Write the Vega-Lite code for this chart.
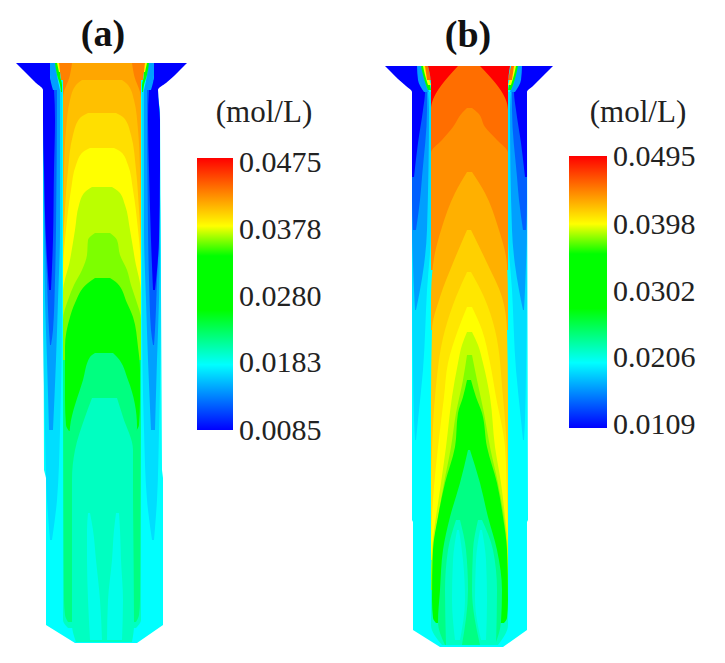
{"$schema":"https://vega.github.io/schema/vega-lite/v6.json","width":725,"height":663,"padding":0,"autosize":{"type":"fit","contains":"padding"},"background":"white","config":{"view":{"stroke":null}},
"datasets":{
"shapeA":[{"y":63,"x":40,"x2":163},{"y":90,"x":44,"x2":157},{"y":110,"x":43,"x2":160},{"y":470,"x":44,"x2":162},{"y":478,"x":46,"x2":163},{"y":625,"x":46,"x2":163},{"y":643,"x":75,"x2":137}],
"shapeB":[{"y":66,"x":405,"x2":533},{"y":92,"x":413,"x2":526},{"y":110,"x":412,"x2":527},{"y":520,"x":412,"x2":528},{"y":522,"x":413,"x2":527},{"y":630,"x":413,"x2":527},{"y":647,"x":440,"x2":503}],
"bandsA":[
{"b":"A1L","c":0.0167,"y":90,"x":43,"x2":62},{"b":"A1L","c":0.0167,"y":300,"x":43,"x2":62},{"b":"A1L","c":0.0167,"y":430,"x":45,"x2":60},{"b":"A1L","c":0.0167,"y":500,"x":47,"x2":57},{"b":"A1L","c":0.0167,"y":540,"x":50,"x2":52},
{"b":"A1R","c":0.0167,"y":90,"x":142,"x2":158},{"b":"A1R","c":0.0167,"y":300,"x":142,"x2":161},{"b":"A1R","c":0.0167,"y":430,"x":144,"x2":159},{"b":"A1R","c":0.0167,"y":500,"x":147,"x2":157},{"b":"A1R","c":0.0167,"y":540,"x":152,"x2":154},
{"b":"A2L","c":0.0144,"y":90,"x":43,"x2":60},{"b":"A2L","c":0.0144,"y":230,"x":44,"x2":60},{"b":"A2L","c":0.0144,"y":300,"x":45,"x2":58},{"b":"A2L","c":0.0144,"y":360,"x":47,"x2":56},{"b":"A2L","c":0.0144,"y":430,"x":49,"x2":53},
{"b":"A2R","c":0.0144,"y":90,"x":144,"x2":158},{"b":"A2R","c":0.0144,"y":230,"x":144,"x2":160},{"b":"A2R","c":0.0144,"y":300,"x":146,"x2":159},{"b":"A2R","c":0.0144,"y":360,"x":148,"x2":157},{"b":"A2R","c":0.0144,"y":430,"x":151,"x2":155},
{"b":"A3L","c":0.012,"y":90,"x":43,"x2":57},{"b":"A3L","c":0.012,"y":230,"x":45,"x2":56},{"b":"A3L","c":0.012,"y":280,"x":47,"x2":55},{"b":"A3L","c":0.012,"y":330,"x":49,"x2":53},{"b":"A3L","c":0.012,"y":345,"x":50,"x2":51},
{"b":"A3R","c":0.012,"y":90,"x":147,"x2":158},{"b":"A3R","c":0.012,"y":230,"x":148,"x2":159},{"b":"A3R","c":0.012,"y":280,"x":149,"x2":157},{"b":"A3R","c":0.012,"y":330,"x":151,"x2":155},{"b":"A3R","c":0.012,"y":345,"x":153,"x2":154},
{"b":"A4L","c":0.0085,"y":63,"x":16,"x2":51},{"b":"A4L","c":0.0085,"y":70,"x":23,"x2":50},{"b":"A4L","c":0.0085,"y":76,"x":29,"x2":50},{"b":"A4L","c":0.0085,"y":83,"x":36,"x2":52},{"b":"A4L","c":0.0085,"y":90,"x":43,"x2":54},{"b":"A4L","c":0.0085,"y":120,"x":43,"x2":55},{"b":"A4L","c":0.0085,"y":170,"x":44,"x2":54},{"b":"A4L","c":0.0085,"y":240,"x":46,"x2":53},{"b":"A4L","c":0.0085,"y":290,"x":49,"x2":51},
{"b":"A4R","c":0.0085,"y":63,"x":153,"x2":187},{"b":"A4R","c":0.0085,"y":70,"x":154,"x2":180},{"b":"A4R","c":0.0085,"y":76,"x":154,"x2":174},{"b":"A4R","c":0.0085,"y":83,"x":152,"x2":166},{"b":"A4R","c":0.0085,"y":90,"x":149,"x2":158},{"b":"A4R","c":0.0085,"y":120,"x":148,"x2":160},{"b":"A4R","c":0.0085,"y":170,"x":149,"x2":160},{"b":"A4R","c":0.0085,"y":240,"x":151,"x2":159},{"b":"A4R","c":0.0085,"y":290,"x":153,"x2":155},
{"b":"N1L","c":0.0144,"y":63,"x":50,"x2":56},{"b":"N1L","c":0.0144,"y":75,"x":50,"x2":57},{"b":"N1L","c":0.0144,"y":90,"x":53,"x2":60},
{"b":"N1R","c":0.0144,"y":63,"x":148,"x2":154},{"b":"N1R","c":0.0144,"y":75,"x":147,"x2":154},{"b":"N1R","c":0.0144,"y":90,"x":144,"x2":151},
{"b":"N2L","c":0.028,"y":63,"x":55,"x2":60},{"b":"N2L","c":0.028,"y":75,"x":57,"x2":60},{"b":"N2L","c":0.028,"y":85,"x":60,"x2":62},{"b":"N2L","c":0.028,"y":92,"x":61,"x2":62},
{"b":"N2R","c":0.028,"y":63,"x":144,"x2":149},{"b":"N2R","c":0.028,"y":75,"x":144,"x2":147},{"b":"N2R","c":0.028,"y":85,"x":142,"x2":144},{"b":"N2R","c":0.028,"y":92,"x":142,"x2":143},
{"b":"N3L","c":0.0378,"y":63,"x":57,"x2":61},{"b":"N3L","c":0.0378,"y":72,"x":59,"x2":61},
{"b":"N3R","c":0.0378,"y":63,"x":143,"x2":147},{"b":"N3R","c":0.0378,"y":72,"x":143,"x2":145},
{"b":"N4L","c":0.0426,"y":63,"x":59,"x2":63},{"b":"N4L","c":0.0426,"y":80,"x":61,"x2":63},
{"b":"N4R","c":0.0426,"y":63,"x":141,"x2":145},{"b":"N4R","c":0.0426,"y":80,"x":141,"x2":143},
{"b":"G0","c":0.0198,"y":300,"x":63,"x2":141},{"b":"G0","c":0.0198,"y":620,"x":63,"x2":141},{"b":"G0","c":0.0198,"y":628,"x":68,"x2":136},
{"b":"S1","c":0.0218,"y":340,"x":63,"x2":141},{"b":"S1","c":0.0218,"y":600,"x":64,"x2":140},{"b":"S1","c":0.0218,"y":615,"x":65,"x2":139},{"b":"S1","c":0.0218,"y":622,"x":68,"x2":136},
{"b":"K0","c":0.0426,"y":63,"x":63,"x2":141},{"b":"K0","c":0.0426,"y":100,"x":63,"x2":141},
{"b":"K1","c":0.0412,"y":63,"x":72,"x2":132},{"b":"K1","c":0.0412,"y":75,"x":70,"x2":134},{"b":"K1","c":0.0412,"y":98,"x":63,"x2":141},{"b":"K1","c":0.0412,"y":240,"x":63,"x2":141},
{"b":"K2","c":0.0402,"y":80,"x":82,"x2":122},{"b":"K2","c":0.0402,"y":85,"x":76,"x2":128},{"b":"K2","c":0.0402,"y":100,"x":70,"x2":134},{"b":"K2","c":0.0402,"y":130,"x":66,"x2":138},{"b":"K2","c":0.0402,"y":170,"x":64,"x2":140},{"b":"K2","c":0.0402,"y":230,"x":63,"x2":141},{"b":"K2","c":0.0402,"y":250,"x":63,"x2":141},
{"b":"K3","c":0.039,"y":113,"x":88,"x2":116},{"b":"K3","c":0.039,"y":118,"x":80,"x2":124},{"b":"K3","c":0.039,"y":135,"x":73,"x2":131},{"b":"K3","c":0.039,"y":170,"x":68,"x2":136},{"b":"K3","c":0.039,"y":210,"x":65,"x2":139},{"b":"K3","c":0.039,"y":250,"x":63,"x2":141},{"b":"K3","c":0.039,"y":270,"x":63,"x2":141},
{"b":"K4","c":0.0378,"y":148,"x":90,"x2":114},{"b":"K4","c":0.0378,"y":152,"x":83,"x2":121},{"b":"K4","c":0.0378,"y":165,"x":76,"x2":128},{"b":"K4","c":0.0378,"y":190,"x":71,"x2":133},{"b":"K4","c":0.0378,"y":230,"x":66,"x2":138},{"b":"K4","c":0.0378,"y":270,"x":63,"x2":141},{"b":"K4","c":0.0378,"y":300,"x":63,"x2":141},
{"b":"K5","c":0.0366,"y":187,"x":92,"x2":112},{"b":"K5","c":0.0366,"y":192,"x":85,"x2":119},{"b":"K5","c":0.0366,"y":205,"x":79,"x2":125},{"b":"K5","c":0.0366,"y":230,"x":75,"x2":130},{"b":"K5","c":0.0366,"y":260,"x":70,"x2":135},{"b":"K5","c":0.0366,"y":293,"x":63,"x2":141},{"b":"K5","c":0.0366,"y":340,"x":63,"x2":141},
{"b":"K6","c":0.0355,"y":233,"x":95,"x2":110},{"b":"K6","c":0.0355,"y":240,"x":88,"x2":117},{"b":"K6","c":0.0355,"y":255,"x":87,"x2":120},{"b":"K6","c":0.0355,"y":270,"x":82,"x2":127},{"b":"K6","c":0.0355,"y":285,"x":74,"x2":131},{"b":"K6","c":0.0355,"y":300,"x":68,"x2":136},{"b":"K6","c":0.0355,"y":320,"x":63,"x2":141},{"b":"K6","c":0.0355,"y":360,"x":63,"x2":141},
{"b":"K7","c":0.028,"y":278,"x":95,"x2":110},{"b":"K7","c":0.028,"y":283,"x":88,"x2":117},{"b":"K7","c":0.028,"y":303,"x":75,"x2":127},{"b":"K7","c":0.028,"y":317,"x":70,"x2":133},{"b":"K7","c":0.028,"y":347,"x":65,"x2":138},{"b":"K7","c":0.028,"y":370,"x":65,"x2":140},{"b":"K7","c":0.028,"y":400,"x":65,"x2":140},{"b":"K7","c":0.028,"y":425,"x":66,"x2":139},{"b":"K7","c":0.028,"y":431,"x":69,"x2":136},
{"b":"K8","c":0.0218,"y":353,"x":95,"x2":113},{"b":"K8","c":0.0218,"y":357,"x":90,"x2":117},{"b":"K8","c":0.0218,"y":380,"x":83,"x2":128},{"b":"K8","c":0.0218,"y":427,"x":70,"x2":137},{"b":"K8","c":0.0218,"y":440,"x":69,"x2":136},
{"b":"K9","c":0.0198,"y":398,"x":92,"x2":117},{"b":"K9","c":0.0198,"y":417,"x":85,"x2":123},{"b":"K9","c":0.0198,"y":450,"x":75,"x2":133},{"b":"K9","c":0.0198,"y":480,"x":72,"x2":133},{"b":"K9","c":0.0198,"y":625,"x":72,"x2":134},{"b":"K9","c":0.0198,"y":642,"x":76,"x2":132},
{"b":"K10L","c":0.0185,"y":513,"x":88,"x2":90},{"b":"K10L","c":0.0185,"y":530,"x":87,"x2":93},{"b":"K10L","c":0.0185,"y":560,"x":87,"x2":96},{"b":"K10L","c":0.0185,"y":600,"x":88,"x2":100},{"b":"K10L","c":0.0185,"y":640,"x":90,"x2":102},
{"b":"K10R","c":0.0185,"y":513,"x":116,"x2":119},{"b":"K10R","c":0.0185,"y":530,"x":114,"x2":120},{"b":"K10R","c":0.0185,"y":560,"x":112,"x2":121},{"b":"K10R","c":0.0185,"y":600,"x":108,"x2":123},{"b":"K10R","c":0.0185,"y":640,"x":107,"x2":122}
],
"bandsB":[
{"b":"A1L","c":0.019,"y":92,"x":412,"x2":431},{"b":"A1L","c":0.019,"y":230,"x":412,"x2":431},{"b":"A1L","c":0.019,"y":290,"x":412,"x2":427},{"b":"A1L","c":0.019,"y":370,"x":413,"x2":423},{"b":"A1L","c":0.019,"y":420,"x":414,"x2":418},{"b":"A1L","c":0.019,"y":440,"x":415,"x2":416},
{"b":"A1R","c":0.019,"y":92,"x":508,"x2":527},{"b":"A1R","c":0.019,"y":230,"x":508,"x2":527},{"b":"A1R","c":0.019,"y":290,"x":512,"x2":527},{"b":"A1R","c":0.019,"y":370,"x":516,"x2":526},{"b":"A1R","c":0.019,"y":420,"x":521,"x2":525},{"b":"A1R","c":0.019,"y":440,"x":523,"x2":524},
{"b":"A2L","c":0.0167,"y":92,"x":412,"x2":428},{"b":"A2L","c":0.0167,"y":110,"x":412,"x2":429},{"b":"A2L","c":0.0167,"y":230,"x":412,"x2":427},{"b":"A2L","c":0.0167,"y":265,"x":413,"x2":424},{"b":"A2L","c":0.0167,"y":290,"x":414,"x2":420},{"b":"A2L","c":0.0167,"y":310,"x":415,"x2":416},
{"b":"A2R","c":0.0167,"y":92,"x":511,"x2":527},{"b":"A2R","c":0.0167,"y":110,"x":510,"x2":527},{"b":"A2R","c":0.0167,"y":230,"x":512,"x2":527},{"b":"A2R","c":0.0167,"y":265,"x":515,"x2":526},{"b":"A2R","c":0.0167,"y":290,"x":519,"x2":525},{"b":"A2R","c":0.0167,"y":310,"x":523,"x2":524},
{"b":"A3L","c":0.0144,"y":92,"x":412,"x2":427},{"b":"A3L","c":0.0144,"y":110,"x":412,"x2":427},{"b":"A3L","c":0.0144,"y":177,"x":412,"x2":422},{"b":"A3L","c":0.0144,"y":200,"x":412,"x2":420},{"b":"A3L","c":0.0144,"y":230,"x":413,"x2":416},
{"b":"A3R","c":0.0144,"y":92,"x":512,"x2":527},{"b":"A3R","c":0.0144,"y":110,"x":512,"x2":527},{"b":"A3R","c":0.0144,"y":177,"x":517,"x2":527},{"b":"A3R","c":0.0144,"y":200,"x":519,"x2":527},{"b":"A3R","c":0.0144,"y":230,"x":523,"x2":526},
{"b":"A4L","c":0.0109,"y":66,"x":385,"x2":418},{"b":"A4L","c":0.0109,"y":72,"x":391,"x2":419},{"b":"A4L","c":0.0109,"y":79,"x":398,"x2":421},{"b":"A4L","c":0.0109,"y":86,"x":406,"x2":424},{"b":"A4L","c":0.0109,"y":92,"x":412,"x2":425},{"b":"A4L","c":0.0109,"y":110,"x":412,"x2":423},{"b":"A4L","c":0.0109,"y":143,"x":412,"x2":418},{"b":"A4L","c":0.0109,"y":177,"x":412,"x2":414},
{"b":"A4R","c":0.0109,"y":66,"x":521,"x2":553},{"b":"A4R","c":0.0109,"y":72,"x":520,"x2":547},{"b":"A4R","c":0.0109,"y":79,"x":518,"x2":540},{"b":"A4R","c":0.0109,"y":86,"x":515,"x2":533},{"b":"A4R","c":0.0109,"y":92,"x":514,"x2":527},{"b":"A4R","c":0.0109,"y":110,"x":516,"x2":527},{"b":"A4R","c":0.0109,"y":143,"x":521,"x2":527},{"b":"A4R","c":0.0109,"y":177,"x":525,"x2":527},
{"b":"N1L","c":0.0167,"y":66,"x":417,"x2":422},{"b":"N1L","c":0.0167,"y":80,"x":418,"x2":425},{"b":"N1L","c":0.0167,"y":92,"x":424,"x2":429},
{"b":"N1R","c":0.0167,"y":66,"x":517,"x2":522},{"b":"N1R","c":0.0167,"y":80,"x":514,"x2":521},{"b":"N1R","c":0.0167,"y":92,"x":510,"x2":515},
{"b":"N2L","c":0.03,"y":66,"x":421,"x2":427},{"b":"N2L","c":0.03,"y":75,"x":423,"x2":427},{"b":"N2L","c":0.03,"y":85,"x":426,"x2":430},{"b":"N2L","c":0.03,"y":90,"x":428,"x2":431},
{"b":"N2R","c":0.03,"y":66,"x":512,"x2":518},{"b":"N2R","c":0.03,"y":75,"x":512,"x2":516},{"b":"N2R","c":0.03,"y":85,"x":509,"x2":513},{"b":"N2R","c":0.03,"y":90,"x":508,"x2":511},
{"b":"N3L","c":0.0398,"y":66,"x":423,"x2":427},{"b":"N3L","c":0.0398,"y":75,"x":425,"x2":428},{"b":"N3L","c":0.0398,"y":85,"x":428,"x2":431},
{"b":"N3R","c":0.0398,"y":66,"x":512,"x2":516},{"b":"N3R","c":0.0398,"y":75,"x":511,"x2":514},{"b":"N3R","c":0.0398,"y":85,"x":508,"x2":511},
{"b":"N4L","c":0.0453,"y":66,"x":425,"x2":428},{"b":"N4L","c":0.0453,"y":80,"x":427,"x2":431},
{"b":"N4R","c":0.0453,"y":66,"x":511,"x2":514},{"b":"N4R","c":0.0453,"y":80,"x":508,"x2":512},
{"b":"G0","c":0.0221,"y":400,"x":431,"x2":508},{"b":"G0","c":0.0221,"y":625,"x":431,"x2":508},{"b":"G0","c":0.0221,"y":645,"x":442,"x2":498},
{"b":"K0","c":0.0495,"y":66,"x":428,"x2":510},{"b":"K0","c":0.0495,"y":85,"x":431,"x2":508},{"b":"K0","c":0.0495,"y":110,"x":431,"x2":508},
{"b":"K1","c":0.0453,"y":66,"x":458,"x2":480},{"b":"K1","c":0.0453,"y":110,"x":431,"x2":508},{"b":"K1","c":0.0453,"y":260,"x":431,"x2":508},
{"b":"K2","c":0.0441,"y":108,"x":467,"x2":472},{"b":"K2","c":0.0441,"y":113,"x":462,"x2":478},{"b":"K2","c":0.0441,"y":127,"x":453,"x2":485},{"b":"K2","c":0.0441,"y":140,"x":442,"x2":497},{"b":"K2","c":0.0441,"y":153,"x":431,"x2":508},{"b":"K2","c":0.0441,"y":270,"x":431,"x2":508},
{"b":"K3","c":0.0428,"y":172,"x":467,"x2":472},{"b":"K3","c":0.0428,"y":193,"x":455,"x2":485},{"b":"K3","c":0.0428,"y":227,"x":442,"x2":498},{"b":"K3","c":0.0428,"y":265,"x":433,"x2":507},{"b":"K3","c":0.0428,"y":300,"x":431,"x2":508},{"b":"K3","c":0.0428,"y":330,"x":431,"x2":508},
{"b":"K4","c":0.0416,"y":230,"x":467,"x2":471},{"b":"K4","c":0.0416,"y":263,"x":453,"x2":487},{"b":"K4","c":0.0416,"y":297,"x":440,"x2":502},{"b":"K4","c":0.0416,"y":330,"x":432,"x2":507},{"b":"K4","c":0.0416,"y":400,"x":431,"x2":508},{"b":"K4","c":0.0416,"y":490,"x":431,"x2":508},
{"b":"K5","c":0.0407,"y":272,"x":467,"x2":471},{"b":"K5","c":0.0407,"y":297,"x":456,"x2":484},{"b":"K5","c":0.0407,"y":330,"x":445,"x2":495},{"b":"K5","c":0.0407,"y":397,"x":435,"x2":503},{"b":"K5","c":0.0407,"y":450,"x":432,"x2":507},{"b":"K5","c":0.0407,"y":480,"x":431,"x2":508},{"b":"K5","c":0.0407,"y":550,"x":431,"x2":508},
{"b":"K6","c":0.0398,"y":307,"x":467,"x2":472},{"b":"K6","c":0.0398,"y":330,"x":458,"x2":482},{"b":"K6","c":0.0398,"y":363,"x":448,"x2":490},{"b":"K6","c":0.0398,"y":397,"x":444,"x2":496},{"b":"K6","c":0.0398,"y":447,"x":438,"x2":505},{"b":"K6","c":0.0398,"y":500,"x":433,"x2":507},{"b":"K6","c":0.0398,"y":545,"x":431,"x2":508},{"b":"K6","c":0.0398,"y":560,"x":431,"x2":508},
{"b":"K7","c":0.0389,"y":332,"x":467,"x2":472},{"b":"K7","c":0.0389,"y":345,"x":462,"x2":478},{"b":"K7","c":0.0389,"y":363,"x":458,"x2":483},{"b":"K7","c":0.0389,"y":397,"x":452,"x2":490},{"b":"K7","c":0.0389,"y":447,"x":446,"x2":495},{"b":"K7","c":0.0389,"y":483,"x":441,"x2":501},{"b":"K7","c":0.0389,"y":517,"x":436,"x2":505},{"b":"K7","c":0.0389,"y":550,"x":432,"x2":508},{"b":"K7","c":0.0389,"y":580,"x":431,"x2":508},
{"b":"K8","c":0.0379,"y":355,"x":467,"x2":472},{"b":"K8","c":0.0379,"y":380,"x":463,"x2":477},{"b":"K8","c":0.0379,"y":413,"x":456,"x2":484},{"b":"K8","c":0.0379,"y":447,"x":451,"x2":490},{"b":"K8","c":0.0379,"y":483,"x":444,"x2":498},{"b":"K8","c":0.0379,"y":517,"x":438,"x2":504},{"b":"K8","c":0.0379,"y":550,"x":433,"x2":507},{"b":"K8","c":0.0379,"y":590,"x":431,"x2":508},
{"b":"K9","c":0.03,"y":380,"x":467,"x2":471},{"b":"K9","c":0.03,"y":397,"x":463,"x2":476},{"b":"K9","c":0.03,"y":413,"x":458,"x2":482},{"b":"K9","c":0.03,"y":447,"x":455,"x2":487},{"b":"K9","c":0.03,"y":483,"x":445,"x2":497},{"b":"K9","c":0.03,"y":517,"x":438,"x2":503},{"b":"K9","c":0.03,"y":550,"x":433,"x2":507},{"b":"K9","c":0.03,"y":600,"x":432,"x2":508},{"b":"K9","c":0.03,"y":618,"x":433,"x2":507},{"b":"K9","c":0.03,"y":623,"x":436,"x2":504},
{"b":"K10","c":0.024,"y":450,"x":468,"x2":470},{"b":"K10","c":0.024,"y":483,"x":460,"x2":480},{"b":"K10","c":0.024,"y":517,"x":450,"x2":488},{"b":"K10","c":0.024,"y":550,"x":443,"x2":497},{"b":"K10","c":0.024,"y":590,"x":440,"x2":502},{"b":"K10","c":0.024,"y":622,"x":438,"x2":501},{"b":"K10","c":0.024,"y":645,"x":445,"x2":495},
{"b":"K11L","c":0.0221,"y":520,"x":456,"x2":460},{"b":"K11L","c":0.0221,"y":550,"x":448,"x2":466},{"b":"K11L","c":0.0221,"y":590,"x":445,"x2":468},{"b":"K11L","c":0.0221,"y":645,"x":446,"x2":462},
{"b":"K11R","c":0.0221,"y":520,"x":478,"x2":482},{"b":"K11R","c":0.0221,"y":550,"x":473,"x2":493},{"b":"K11R","c":0.0221,"y":590,"x":472,"x2":497},{"b":"K11R","c":0.0221,"y":645,"x":480,"x2":496},
{"b":"K12L","c":0.021,"y":530,"x":457,"x2":459},{"b":"K12L","c":0.021,"y":560,"x":453,"x2":463},{"b":"K12L","c":0.021,"y":600,"x":452,"x2":465},{"b":"K12L","c":0.021,"y":640,"x":455,"x2":460},
{"b":"K12R","c":0.021,"y":530,"x":480,"x2":482},{"b":"K12R","c":0.021,"y":560,"x":476,"x2":486},{"b":"K12R","c":0.021,"y":600,"x":475,"x2":487},{"b":"K12R","c":0.021,"y":640,"x":481,"x2":486}
],
"labels":[
{"t":"0.0475","x":239,"y":163},{"t":"0.0378","x":239,"y":230},{"t":"0.0280","x":239,"y":297},{"t":"0.0183","x":239,"y":363},{"t":"0.0085","x":239,"y":431},
{"t":"0.0495","x":613,"y":157},{"t":"0.0398","x":613,"y":225},{"t":"0.0302","x":613,"y":292},{"t":"0.0206","x":613,"y":358},{"t":"0.0109","x":613,"y":425}],
"heads":[{"t":"(mol/L)","x":264,"y":113},{"t":"(mol/L)","x":638,"y":113}],
"titles":[{"t":"(a)","x":103,"y":35},{"t":"(b)","x":468,"y":36}]
},
"layer":[
{"data":{"name":"shapeA"},"mark":{"type":"area","orient":"horizontal","interpolate":"linear","fill":"#00ffff"},"encoding":{"y":{"field":"y","type":"quantitative","scale":{"domain":[663,0],"nice":false,"zero":false},"axis":null},"x":{"field":"x","type":"quantitative","scale":{"domain":[0,725],"nice":false,"zero":false},"axis":null},"x2":{"field":"x2"}}},
{"data":{"name":"shapeB"},"mark":{"type":"area","orient":"horizontal","interpolate":"linear","fill":"#00ffff"},"encoding":{"y":{"field":"y","type":"quantitative","axis":null},"x":{"field":"x","type":"quantitative","axis":null},"x2":{"field":"x2"}}},
{"data":{"name":"bandsA"},"mark":{"type":"area","orient":"horizontal","interpolate":"monotone"},"encoding":{"y":{"field":"y","type":"quantitative","axis":null},"x":{"field":"x","type":"quantitative","axis":null},"x2":{"field":"x2"},"detail":{"field":"b"},"color":{"field":"c","type":"quantitative","legend":null,"scale":{"domain":[0.0085,0.0179,0.0257,0.0333,0.0378,0.0475],"range":["#0000ff","#00ffff","#00ff00","#00ff00","#ffff00","#ff0000"],"interpolate":"rgb"}}}},
{"data":{"name":"bandsB"},"mark":{"type":"area","orient":"horizontal","interpolate":"monotone"},"encoding":{"y":{"field":"y","type":"quantitative","axis":null},"x":{"field":"x","type":"quantitative","axis":null},"x2":{"field":"x2"},"detail":{"field":"b"},"color":{"field":"c","type":"quantitative","legend":null,"scale":{"domain":[0.0109,0.0202,0.0281,0.036,0.0398,0.0495],"range":["#0000ff","#00ffff","#00ff00","#00ff00","#ffff00","#ff0000"],"interpolate":"rgb"}}}},
{"data":{"values":[{"x":197,"x2":233,"y":158,"y2":430},{"x":569,"x2":607,"y":156,"y2":428}]},"mark":{"type":"rect","fill":{"gradient":"linear","x1":0,"y1":0,"x2":0,"y2":1,"stops":[{"offset":0,"color":"#ff0000"},{"offset":0.125,"color":"#ff8000"},{"offset":0.25,"color":"#ffff00"},{"offset":0.36,"color":"#00ff00"},{"offset":0.56,"color":"#00ff00"},{"offset":0.76,"color":"#00ffff"},{"offset":1,"color":"#0000ff"}]}},"encoding":{"y":{"field":"y","type":"quantitative","axis":null},"y2":{"field":"y2"},"x":{"field":"x","type":"quantitative","axis":null},"x2":{"field":"x2"}}},
{"data":{"name":"labels"},"mark":{"type":"text","font":"Liberation Serif","fontSize":30,"align":"left","baseline":"middle","fill":"#222222"},"encoding":{"y":{"field":"y","type":"quantitative","axis":null},"x":{"field":"x","type":"quantitative","axis":null},"text":{"field":"t"}}},
{"data":{"name":"heads"},"mark":{"type":"text","font":"Liberation Serif","fontSize":31,"align":"center","baseline":"middle","fill":"#222222"},"encoding":{"y":{"field":"y","type":"quantitative","axis":null},"x":{"field":"x","type":"quantitative","axis":null},"text":{"field":"t"}}},
{"data":{"name":"titles"},"mark":{"type":"text","font":"Liberation Serif","fontSize":38,"fontWeight":"bold","align":"center","baseline":"middle","fill":"#111111"},"encoding":{"y":{"field":"y","type":"quantitative","axis":null},"x":{"field":"x","type":"quantitative","axis":null},"text":{"field":"t"}}}
],
"resolve":{"scale":{"color":"independent"}}
}
